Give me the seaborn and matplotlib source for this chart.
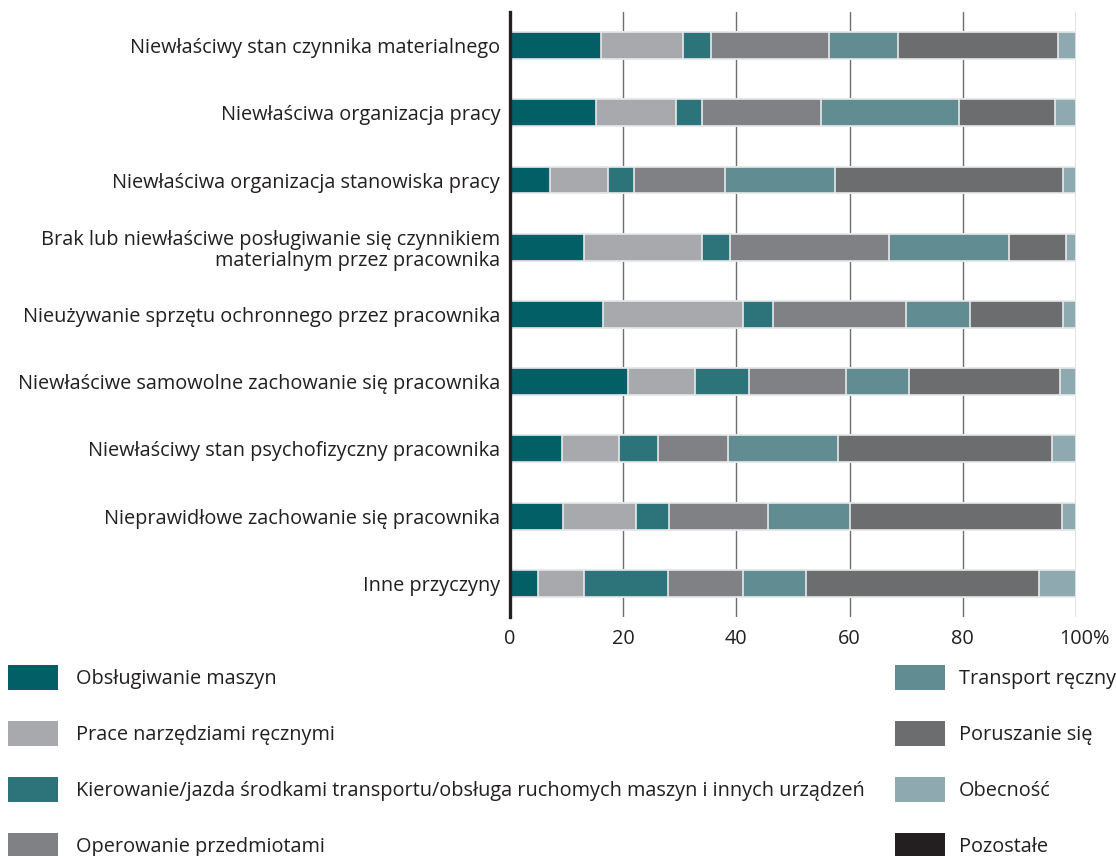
import matplotlib
matplotlib.use("Agg")
import matplotlib.pyplot as plt
from matplotlib.patches import Patch
from matplotlib.transforms import ScaledTranslation
import seaborn as sns
import pandas as pd
import numpy as np

categories = [
    "Niewłaściwy stan czynnika materialnego",
    "Niewłaściwa organizacja pracy",
    "Niewłaściwa organizacja stanowiska pracy",
    "Brak lub niewłaściwe posługiwanie się czynnikiem\nmaterialnym przez pracownika",
    "Nieużywanie sprzętu ochronnego przez pracownika",
    "Niewłaściwe samowolne zachowanie się pracownika",
    "Niewłaściwy stan psychofizyczny pracownika",
    "Nieprawidłowe zachowanie się pracownika",
    "Inne przyczyny",
]

series_names = [
    "Obsługiwanie maszyn",
    "Prace narzędziami ręcznymi",
    "Kierowanie/jazda środkami transportu/obsługa ruchomych maszyn i innych urządzeń",
    "Operowanie przedmiotami",
    "Transport ręczny",
    "Poruszanie się",
    "Obecność",
    "Pozostałe",
]

obslugiwanie = [16.0, 15.2, 7.1, 13.1, 16.5, 20.9, 9.1, 9.3, 4.9]
prace_narzedziami = [14.6, 14.1, 10.2, 20.9, 24.7, 11.8, 10.2, 13.0, 8.2]
kierowanie = [5.0, 4.6, 4.6, 4.9, 5.2, 9.5, 6.9, 5.8, 14.8]
operowanie = [20.7, 21.0, 16.1, 28.0, 23.5, 17.2, 12.4, 17.4, 13.2]
transport_reczny = [12.2, 24.5, 19.5, 21.2, 11.4, 11.1, 19.3, 14.5, 11.2]
poruszanie = [28.4, 16.9, 40.2, 10.2, 16.4, 26.7, 37.8, 37.6, 41.2]
obecnosc = [3.1, 3.7, 2.3, 1.7, 2.3, 2.8, 4.3, 2.4, 6.5]
pozostale = [0, 0, 0, 0, 0, 0, 0, 0, 0]

series_values = [obslugiwanie, prace_narzedziami, kierowanie, operowanie,
                 transport_reczny, poruszanie, obecnosc, pozostale]

colors = ["#035f66", "#a8a9ac", "#2d737a", "#808184",
          "#618c92", "#6c6d6f", "#8fa9b0", "#231f20"]

xticks = [0, 20, 40, 60, 80, 100]
xtick_labels = ["0", "20", "40", "60", "80", "100%"]

sns.set_theme(style="white")
FONT = ["Open Sans", "DejaVu Sans"]
plt.rcParams["font.family"] = FONT
TXT = "#231f20"
FS = 14.3

fig = plt.figure(figsize=(11.16, 8.56), dpi=100)
ax = fig.add_axes([510 / 1116, 1 - 617 / 856, (1076 - 510) / 1116, (617 - 12) / 856])

# cumulative sums, drawn from widest to narrowest (stacked)
vals = np.array(series_values, dtype=float)
cums = np.cumsum(vals, axis=0)
rows = []
for i, name in enumerate(series_names):
    for j, cat in enumerate(categories):
        rows.append({"series": name, "category": cat, "cum": cums[i, j]})
df = pd.DataFrame(rows)

for i in range(len(series_names) - 1, -1, -1):
    sub = df[df["series"] == series_names[i]]
    sns.barplot(data=sub, x="cum", y="category", order=categories,
                color=colors[i], orient="h", width=0.4, ax=ax,
                edgecolor="#e8e9ea", linewidth=1.2, saturation=1)

ax.set_xlim(0, 100)
ax.set_ylim(len(categories) - 0.5, -0.5)
ax.set_xlabel("")
ax.set_ylabel("")
ax.set_axisbelow(True)
ax.set_xticks(xticks)
ax.set_xticklabels(xtick_labels)
ax.xaxis.grid(True, color="#6d6e70", linewidth=1.0)
ax.yaxis.grid(False)
for s in ["top", "right", "bottom"]:
    ax.spines[s].set_visible(False)
ax.spines["left"].set_color(TXT)
ax.spines["left"].set_linewidth(2.4)
ax.spines["left"].set_zorder(5)
ax.tick_params(axis="both", length=0, labelsize=FS, colors=TXT)
ax.tick_params(axis="y", pad=7)
ax.tick_params(axis="x", pad=9)
for lbl in ax.get_yticklabels():
    lbl.set_multialignment("right")
    lbl.set_linespacing(1.05)
last = ax.get_xticklabels()[-1]
last.set_transform(last.get_transform() + ScaledTranslation(0.09, 0, fig.dpi_scale_trans))

handles = [Patch(facecolor=c, edgecolor="none") for c in colors]
fs_px = FS * 100 / 72
leg_kw = dict(frameon=False, fontsize=FS, handlelength=50 / fs_px, handleheight=1.55,
              labelspacing=1.56, borderpad=0, borderaxespad=0,
              labelcolor=TXT, loc="upper left")
fig.legend(handles[:4], series_names[:4], bbox_to_anchor=(8 / 1116, 1 - 665 / 856),
           handletextpad=18 / fs_px, **leg_kw)
fig.legend(handles[4:], series_names[4:], bbox_to_anchor=(895 / 1116, 1 - 665 / 856),
           handletextpad=14 / fs_px, **leg_kw)

fig.savefig("out.png", dpi=100)
